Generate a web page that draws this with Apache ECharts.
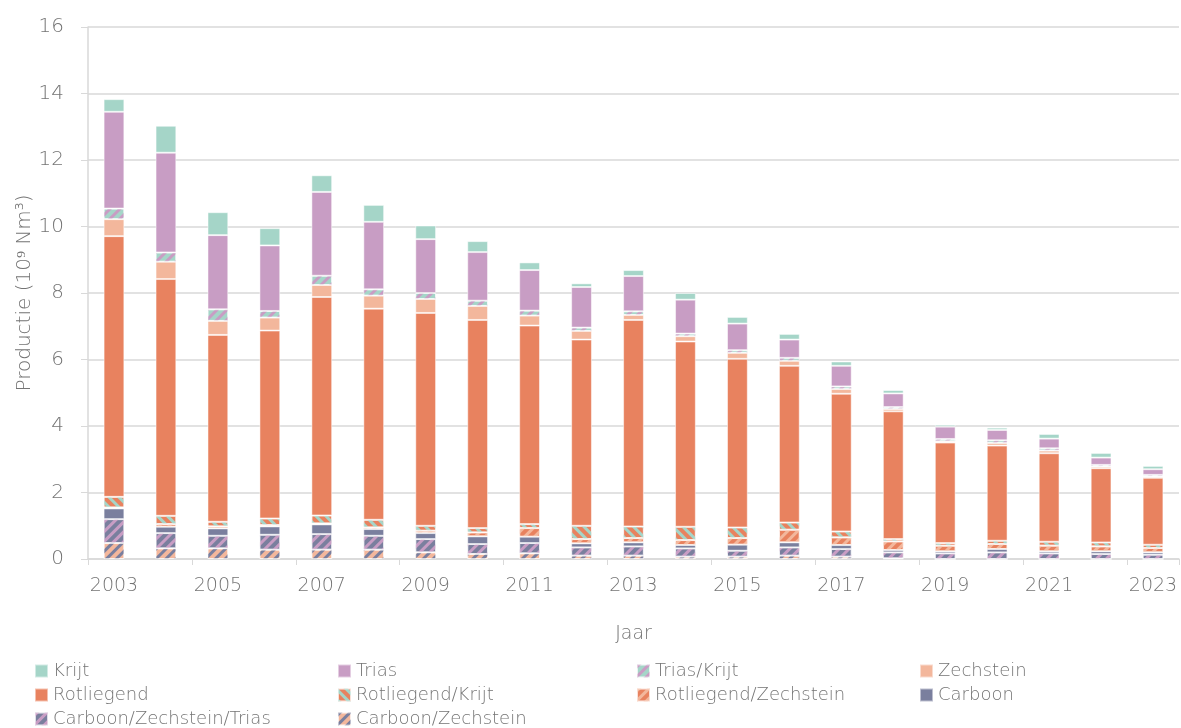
<!DOCTYPE html>
<html>
<head>
<meta charset="utf-8">
<script src="https://cdn.jsdelivr.net/npm/echarts@6/dist/echarts.min.js"></script>
<style>
  html, body { margin: 0; padding: 0; background: #fff; }
  #chart { width: 1181px; height: 728px; }
</style>
</head>
<body>
<div id="chart"></div>
<script>
// jaren op de x-as
const years = ['2003','2004','2005','2006','2007','2008','2009','2010','2011','2012','2013',
  '2014','2015','2016','2017','2018','2019','2020','2021','2022','2023'];

// productie per formatie (10^9 Nm3)
const krijt = [0.38,0.81,0.69,0.52,0.50,0.51,0.41,0.33,0.23,0.11,0.18,0.20,0.20,0.17,0.13,0.10,0.06,0.07,0.14,0.14,0.10];
const trias = [2.91,3.00,2.23,1.97,2.52,2.03,1.62,1.46,1.22,1.22,1.06,1.02,0.80,0.55,0.62,0.41,0.37,0.31,0.29,0.22,0.17];
const triasKrijt = [0.32,0.28,0.35,0.20,0.28,0.19,0.18,0.16,0.15,0.10,0.11,0.08,0.08,0.09,0.08,0.06,0.07,0.08,0.07,0.05,0.05];
const zechstein = [0.51,0.52,0.42,0.39,0.36,0.39,0.42,0.42,0.30,0.26,0.15,0.16,0.18,0.15,0.14,0.07,0.04,0.08,0.08,0.05,0.04];
const rotliegend = [7.84,7.12,5.62,5.65,6.57,6.35,6.40,6.26,5.97,5.60,6.21,5.57,5.07,4.71,4.14,3.84,3.02,2.86,2.66,2.23,2.01];
const rotliegendKrijt = [0.32,0.25,0.14,0.20,0.24,0.23,0.15,0.13,0.12,0.40,0.35,0.40,0.32,0.22,0.18,0.07,0.08,0.10,0.12,0.12,0.10];
const rotliegendZechstein = [0.03,0.08,0.06,0.04,0.03,0.05,0.07,0.12,0.26,0.13,0.13,0.15,0.20,0.38,0.23,0.26,0.17,0.15,0.17,0.15,0.13];
const carboon = [0.32,0.19,0.22,0.25,0.29,0.20,0.18,0.23,0.19,0.12,0.12,0.10,0.18,0.15,0.12,0.07,0.06,0.10,0.06,0.08,0.07];
const carboonZechsteinTrias = [0.72,0.46,0.38,0.45,0.47,0.42,0.40,0.30,0.31,0.25,0.28,0.25,0.18,0.25,0.23,0.18,0.17,0.20,0.17,0.15,0.13];
const carboonZechstein = [0.48,0.32,0.32,0.28,0.28,0.28,0.20,0.15,0.17,0.10,0.10,0.07,0.07,0.10,0.07,0.02,0,0,0,0,0];

const C_KRIJT = '#a5d5c8';
const C_TRIAS = '#c89dc4';
const C_ZECH = '#f3b79c';
const C_ROT = '#e8825f';
const C_CARB = '#7a7f9e';
const GREY = '#747474';
const FONT = 'DejaVu Sans';
const WEIGHT = 200;

function stripes(color, dir) {
  return {
    symbol: 'rect',
    color: color,
    dashArrayX: [1, 0],
    dashArrayY: [3, 4],
    rotation: dir * Math.PI / 4
  };
}

function serie(name, data, color, decal) {
  const itemStyle = { color: color, borderColor: 'rgba(255,255,255,0.5)', borderWidth: 1 };
  if (decal) itemStyle.decal = decal;
  return {
    name: name,
    type: 'bar',
    stack: 'totaal',
    barWidth: '40%',
    data: data,
    itemStyle: itemStyle,
    emphasis: { disabled: true }
  };
}

// volgorde van onder naar boven
const series = [
  serie('Carboon/Zechstein', carboonZechstein, C_ZECH, stripes(C_CARB, -1)),
  serie('Carboon/Zechstein/Trias', carboonZechsteinTrias, C_CARB, stripes(C_TRIAS, -1)),
  serie('Carboon', carboon, C_CARB),
  serie('Rotliegend/Zechstein', rotliegendZechstein, C_ROT, stripes(C_ZECH, -1)),
  serie('Rotliegend/Krijt', rotliegendKrijt, C_ROT, stripes(C_KRIJT, 1)),
  serie('Rotliegend', rotliegend, C_ROT),
  serie('Zechstein', zechstein, C_ZECH),
  serie('Trias/Krijt', triasKrijt, C_KRIJT, stripes(C_TRIAS, -1)),
  serie('Trias', trias, C_TRIAS),
  serie('Krijt', krijt, C_KRIJT)
];

function legendCol(left, names) {
  return {
    orient: 'vertical',
    left: left,
    top: 662,
    padding: 0,
    itemWidth: 13,
    itemHeight: 13,
    itemGap: 6,
    icon: 'rect',
    selectedMode: false,
    data: names,
    textStyle: { color: GREY, fontSize: 18, fontFamily: FONT, fontWeight: WEIGHT, lineHeight: 18 }
  };
}

const chart = echarts.init(document.getElementById('chart'));
chart.setOption({
  animation: false,
  textStyle: { fontFamily: FONT },
  grid: { left: 88, right: 2, top: 27, bottom: 169, containLabel: false },
  legend: [
    legendCol(34, ['Krijt', 'Rotliegend', 'Carboon/Zechstein/Trias']),
    legendCol(337, ['Trias', 'Rotliegend/Krijt', 'Carboon/Zechstein']),
    legendCol(636, ['Trias/Krijt', 'Rotliegend/Zechstein']),
    legendCol(919, ['Zechstein', 'Carboon'])
  ],
  xAxis: {
    type: 'category',
    data: years,
    name: 'Jaar',
    nameLocation: 'middle',
    nameGap: 66,
    nameMoveOverlap: false,
    nameTextStyle: { color: GREY, fontSize: 19, fontFamily: FONT, fontWeight: WEIGHT },
    axisLine: { lineStyle: { color: '#d9d9d9', width: 1.5 } },
    axisTick: { show: true, alignWithLabel: false, length: 6, lineStyle: { color: '#d9d9d9' } },
    axisLabel: { interval: 1, color: GREY, fontSize: 19, margin: 18, fontFamily: FONT, fontWeight: WEIGHT }
  },
  yAxis: {
    type: 'value',
    min: 0,
    max: 16,
    interval: 2,
    name: 'Productie (10⁹ Nm³)',
    nameLocation: 'middle',
    nameGap: 53,
    nameMoveOverlap: false,
    nameTextStyle: { color: GREY, fontSize: 20, fontFamily: FONT, fontWeight: WEIGHT },
    axisLine: { show: true, lineStyle: { color: '#d9d9d9', width: 1.5 } },
    axisTick: { show: true, length: 7, lineStyle: { color: '#d9d9d9' } },
    splitLine: { lineStyle: { color: '#d9d9d9', width: 1.5 } },
    axisLabel: { color: GREY, fontSize: 20, margin: 24, fontFamily: FONT, fontWeight: WEIGHT }
  },
  series: series
});
</script>
</body>
</html>
